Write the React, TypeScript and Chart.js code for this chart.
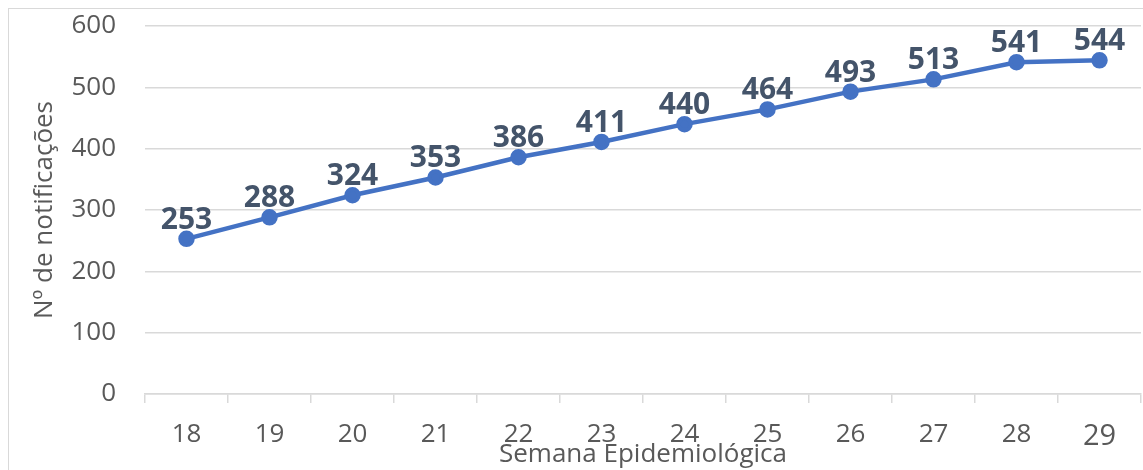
import React, { useEffect, useRef } from "react";
import { Chart, registerables } from "chart.js";

Chart.register(...registerables);

// ---- Data ----
const weeks: string[] = ["18", "19", "20", "21", "22", "23", "24", "25", "26", "27", "28", "29"];
const notifications: number[] = [253, 288, 324, 353, 386, 411, 440, 464, 493, 513, 541, 544];
const yMin = 0;
const yMax = 600;
const yStep = 100;
const xTitle = "Semana Epidemiológica";
const yTitle = "Nº de notificações";

const FONT = "'Open Sans', 'Noto Sans', sans-serif";

const valueLabels = {
  id: "valueLabels",
  afterDatasetsDraw(chart: any) {
    const { ctx } = chart;
    const meta = chart.getDatasetMeta(0);
    const values = chart.data.datasets[0].data as number[];
    ctx.save();
    ctx.font = `bold 30px ${FONT}`;
    ctx.fillStyle = "#44546A";
    ctx.textAlign = "center";
    ctx.textBaseline = "alphabetic";
    meta.data.forEach((pt: any, i: number) => {
      ctx.fillText(String(values[i]), pt.x, pt.y - 10);
    });
    ctx.restore();
  },
};

export default function App() {
  const canvasRef = useRef<HTMLCanvasElement | null>(null);

  useEffect(() => {
    if (!canvasRef.current) return;
    const chart = new Chart(canvasRef.current, {
      type: "line",
      data: {
        labels: weeks,
        datasets: [
          {
            data: notifications,
            borderColor: "#4472C4",
            backgroundColor: "#4472C4",
            borderWidth: 4.5,
            pointRadius: 6,
            pointHoverRadius: 6,
            pointBackgroundColor: "#4472C4",
            pointBorderColor: "#4472C4",
            tension: 0,
            fill: false,
            clip: false,
          },
        ],
      },
      options: {
        responsive: false,
        animation: false,
        devicePixelRatio: 1,
        layout: { autoPadding: false, padding: { top: 26, right: 2, left: 0, bottom: 0 } },
        plugins: {
          legend: { display: false },
          tooltip: { enabled: false },
          title: { display: false },
        },
        scales: {
          x: {
            type: "category",
            offset: true,
            grid: {
              display: true,
              offset: true,
              drawOnChartArea: false,
              drawTicks: true,
              tickLength: 9,
              color: "#d9d9d9",
              lineWidth: 1.5,
            },
            border: { display: true, color: "#d9d9d9", width: 1.5 },
            ticks: {
              color: "#595959",
              padding: 16,
              maxRotation: 0,
              autoSkip: false,
              font: (c: any) => ({ family: FONT, size: c.index === weeks.length - 1 ? 29 : 26 }),
            },
            title: {
              display: true,
              text: xTitle,
              color: "#595959",
              font: { family: FONT, size: 26 },
              padding: { top: 0, bottom: 0 },
            },
            afterFit: (s: any) => {
              s.height = 76;
              s.paddingLeft = 0;
              s.paddingRight = 0;
              s.paddingTop = 0;
              s.paddingBottom = 0;
            },
          },
          y: {
            min: yMin,
            max: yMax,
            grid: {
              color: "#d9d9d9",
              lineWidth: 1.5,
              drawTicks: false,
            },
            border: { display: false },
            ticks: {
              stepSize: yStep,
              color: "#595959",
              padding: 29,
              font: { family: FONT, size: 26 },
            },
            title: {
              display: true,
              text: yTitle,
              color: "#595959",
              font: { family: FONT, size: 26 },
              padding: { top: 29, bottom: 0 },
            },
            afterFit: (s: any) => {
              s.width = 145;
              s.paddingTop = 0;
              s.paddingBottom = 0;
              s.paddingLeft = 0;
              s.paddingRight = 0;
            },
          },
        },
      },
      plugins: [valueLabels],
    });
    return () => chart.destroy();
  }, []);

  return (
    <div
      style={{
        position: "fixed",
        left: 0,
        top: 0,
        width: 1143,
        height: 470,
        overflow: "hidden",
        background: "#ffffff",
      }}
    >
      <div
        style={{
          position: "absolute",
          left: 8,
          top: 8,
          width: 1300,
          height: 600,
          border: "1.5px solid #d9d9d9",
        }}
      />
      <canvas
        ref={canvasRef}
        width={1143}
        height={470}
        style={{ position: "absolute", left: 0, top: 0, width: 1143, height: 470 }}
      />
    </div>
  );
}
